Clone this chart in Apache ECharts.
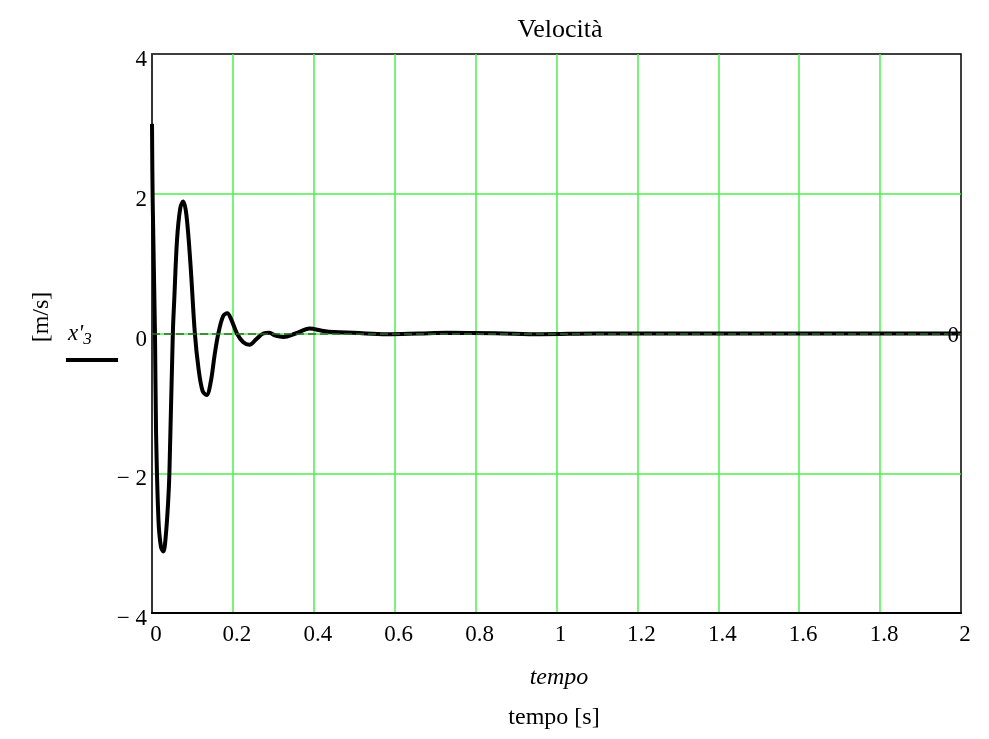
<!DOCTYPE html>
<html>
<head>
<meta charset="utf-8">
<script src="https://cdn.jsdelivr.net/npm/echarts@6/dist/echarts.min.js"></script>
<style>html,body{margin:0;padding:0;background:#fff}#c{width:989px;height:739px}</style>
</head>
<body>
<div id="c"></div>
<script>
const tempo = [0,0.0017,0.0074,0.01,0.016,0.022,0.028,0.034,0.04,0.043,0.0515,0.055,0.062,0.07,0.077,0.085,0.095,0.106,0.115,0.125,0.135,0.145,0.155,0.164,0.176,0.186,0.196,0.21,0.225,0.241,0.258,0.275,0.29,0.305,0.325,0.355,0.39,0.42,0.45,0.5,0.58,0.66,0.73,0.85,0.96,1.1,1.4,1.7,2];
const velocita = [3.0,1.9,0,-1.4,-2.67,-3.05,-3.12,-2.9,-2.4,-2.0,0,0.48,1.35,1.8,1.89,1.7,1.0,0,-0.5,-0.82,-0.88,-0.7,-0.3,0,0.25,0.29,0.2,0,-0.12,-0.16,-0.08,0,0.01,-0.03,-0.05,0,0.07,0.04,0.02,0.01,-0.01,0,0.01,0.005,-0.01,0,0,0,0];
const xTicks = [0,0.2,0.4,0.6,0.8,1,1.2,1.4,1.6,1.8,2];
const yTicks = [-4,-2,0,2,4];
const markerValue = 0;

const serif = '"Liberation Serif","DejaVu Serif",serif';
const chart = echarts.init(document.getElementById('c'));
chart.setOption({
  animation: false,
  backgroundColor: '#fff',
  title: {text: 'Velocità', left: 555, top: 12, textAlign: 'center',
    textStyle: {fontFamily: serif, fontSize: 26, fontWeight: 'normal', color: '#000'}},
  grid: {left: 152, right: 28, top: 54, bottom: 126, show: true, borderColor: '#000', borderWidth: 1.5},
  xAxis: {type: 'value', min: 0, max: 2, interval: 0.2,
    axisLine: {show: true, onZero: false, lineStyle: {color: '#000', width: 2}},
    axisTick: {show: false},
    splitLine: {show: true, showMinLine: false, showMaxLine: false, lineStyle: {color: '#4cf04c', width: 1.5}},
    axisLabel: {fontFamily: serif, fontSize: 23, color: '#000', margin: 10, padding: [0, 0, 0, 8],
      formatter: v => String(Math.round(v*10)/10)}},
  yAxis: {type: 'value', min: -4, max: 4, interval: 2,
    axisLine: {show: true, onZero: false, lineStyle: {color: '#333', width: 2}},
    axisTick: {show: false},
    splitLine: {show: true, showMinLine: false, showMaxLine: false, lineStyle: {color: '#4cf04c', width: 1.5}},
    axisLabel: {color: '#000', margin: 5,
      formatter: v => '{a|' + (v < 0 ? '\u2212 ' + Math.abs(v) : String(v)) + '}',
      rich: {a: {fontFamily: serif, fontSize: 23, color: '#000', padding: [12, 0, 0, 0]}}}},
  graphic: [
    {type: 'text', x: 559, y: 678, style: {text: 'tempo', font: 'italic 24px ' + serif, fill: '#000', align: 'center', verticalAlign: 'middle'}},
    {type: 'text', x: 554, y: 718, style: {text: 'tempo [s]', font: '24px ' + serif, fill: '#000', align: 'center', verticalAlign: 'middle'}},
    {type: 'text', x: 42, y: 317, rotation: Math.PI/2, style: {text: '[m/s]', font: '24px ' + serif, fill: '#000', align: 'center', verticalAlign: 'middle'}},
    {type: 'text', left: 68, top: 322, style: {rich: {a: {font: 'italic 23px ' + serif, fill: '#000'}, s: {font: 'italic 17px ' + serif, fill: '#000', padding: [12, 0, 0, 0]}}, text: "{a|x'}{s|3}"}},
    {type: 'line', shape: {x1: 66, y1: 360, x2: 118, y2: 360}, style: {stroke: '#000', lineWidth: 4}}
  ],
  series: [{
    type: 'line', data: tempo.map((t, i) => [t, velocita[i]]),
    showSymbol: false, smooth: 0.35, lineStyle: {color: '#000', width: 4},
    markLine: {silent: true, symbol: 'none', lineStyle: {color: '#2e6b2e', type: [8, 4], width: 1.5},
      label: {show: true, position: 'insideEndBottom', distance: [2, -9], formatter: String(markerValue), fontFamily: serif, fontSize: 23, color: '#000'},
      data: [{yAxis: markerValue}]}
  }]
});
</script>
</body>
</html>
